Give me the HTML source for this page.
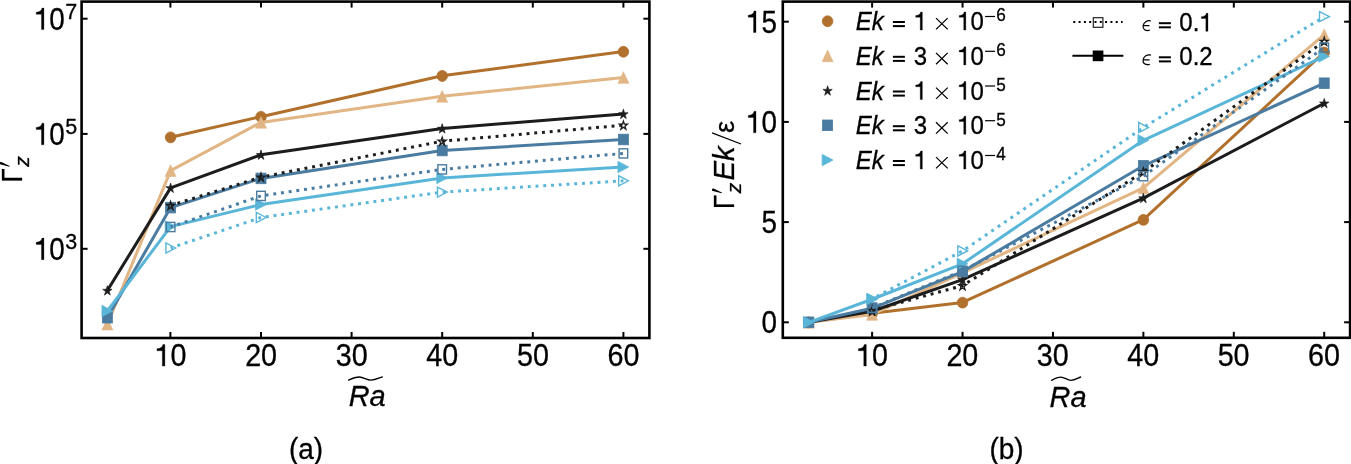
<!DOCTYPE html>
<html><head><meta charset="utf-8"><style>
html,body{margin:0;padding:0;background:#fff;}
svg{display:block;will-change:transform;}
text{font-family:"Liberation Sans", sans-serif;fill:#000;stroke:#000;stroke-width:0.3px;}
</style></head><body>
<svg width="1351" height="464" viewBox="0 0 1351 464">
<rect width="1351" height="464" fill="#fff"/>
<rect x="81.6" y="1.6" width="567.80" height="336.40" fill="none" stroke="#000" stroke-width="2.6"/>
<rect x="782.8" y="1.6" width="567.30" height="336.20" fill="none" stroke="#000" stroke-width="2.6"/>
<line x1="170.40" y1="332.00" x2="170.40" y2="338.00" stroke="#000" stroke-width="2.0"/>
<line x1="170.40" y1="1.60" x2="170.40" y2="7.60" stroke="#000" stroke-width="2.0"/>
<line x1="261.00" y1="332.00" x2="261.00" y2="338.00" stroke="#000" stroke-width="2.0"/>
<line x1="261.00" y1="1.60" x2="261.00" y2="7.60" stroke="#000" stroke-width="2.0"/>
<line x1="351.60" y1="332.00" x2="351.60" y2="338.00" stroke="#000" stroke-width="2.0"/>
<line x1="351.60" y1="1.60" x2="351.60" y2="7.60" stroke="#000" stroke-width="2.0"/>
<line x1="442.20" y1="332.00" x2="442.20" y2="338.00" stroke="#000" stroke-width="2.0"/>
<line x1="442.20" y1="1.60" x2="442.20" y2="7.60" stroke="#000" stroke-width="2.0"/>
<line x1="532.80" y1="332.00" x2="532.80" y2="338.00" stroke="#000" stroke-width="2.0"/>
<line x1="532.80" y1="1.60" x2="532.80" y2="7.60" stroke="#000" stroke-width="2.0"/>
<line x1="623.40" y1="332.00" x2="623.40" y2="338.00" stroke="#000" stroke-width="2.0"/>
<line x1="623.40" y1="1.60" x2="623.40" y2="7.60" stroke="#000" stroke-width="2.0"/>
<line x1="872.12" y1="331.80" x2="872.12" y2="337.80" stroke="#000" stroke-width="2.0"/>
<line x1="872.12" y1="1.60" x2="872.12" y2="7.60" stroke="#000" stroke-width="2.0"/>
<line x1="962.54" y1="331.80" x2="962.54" y2="337.80" stroke="#000" stroke-width="2.0"/>
<line x1="962.54" y1="1.60" x2="962.54" y2="7.60" stroke="#000" stroke-width="2.0"/>
<line x1="1052.96" y1="331.80" x2="1052.96" y2="337.80" stroke="#000" stroke-width="2.0"/>
<line x1="1052.96" y1="1.60" x2="1052.96" y2="7.60" stroke="#000" stroke-width="2.0"/>
<line x1="1143.38" y1="331.80" x2="1143.38" y2="337.80" stroke="#000" stroke-width="2.0"/>
<line x1="1143.38" y1="1.60" x2="1143.38" y2="7.60" stroke="#000" stroke-width="2.0"/>
<line x1="1233.80" y1="331.80" x2="1233.80" y2="337.80" stroke="#000" stroke-width="2.0"/>
<line x1="1233.80" y1="1.60" x2="1233.80" y2="7.60" stroke="#000" stroke-width="2.0"/>
<line x1="1324.22" y1="331.80" x2="1324.22" y2="337.80" stroke="#000" stroke-width="2.0"/>
<line x1="1324.22" y1="1.60" x2="1324.22" y2="7.60" stroke="#000" stroke-width="2.0"/>
<line x1="81.60" y1="18.70" x2="87.60" y2="18.70" stroke="#000" stroke-width="2.0"/>
<line x1="643.40" y1="18.70" x2="649.40" y2="18.70" stroke="#000" stroke-width="2.0"/>
<line x1="81.60" y1="133.90" x2="87.60" y2="133.90" stroke="#000" stroke-width="2.0"/>
<line x1="643.40" y1="133.90" x2="649.40" y2="133.90" stroke="#000" stroke-width="2.0"/>
<line x1="81.60" y1="248.80" x2="87.60" y2="248.80" stroke="#000" stroke-width="2.0"/>
<line x1="643.40" y1="248.80" x2="649.40" y2="248.80" stroke="#000" stroke-width="2.0"/>
<line x1="782.80" y1="322.30" x2="788.80" y2="322.30" stroke="#000" stroke-width="2.0"/>
<line x1="1344.10" y1="322.30" x2="1350.10" y2="322.30" stroke="#000" stroke-width="2.0"/>
<line x1="782.80" y1="222.10" x2="788.80" y2="222.10" stroke="#000" stroke-width="2.0"/>
<line x1="1344.10" y1="222.10" x2="1350.10" y2="222.10" stroke="#000" stroke-width="2.0"/>
<line x1="782.80" y1="121.90" x2="788.80" y2="121.90" stroke="#000" stroke-width="2.0"/>
<line x1="1344.10" y1="121.90" x2="1350.10" y2="121.90" stroke="#000" stroke-width="2.0"/>
<line x1="782.80" y1="21.70" x2="788.80" y2="21.70" stroke="#000" stroke-width="2.0"/>
<line x1="1344.10" y1="21.70" x2="1350.10" y2="21.70" stroke="#000" stroke-width="2.0"/>
<g transform="translate(154.54,366.10) scale(0.98,1.065)"><g transform="translate(0.000,0)"><path d="M10.548,0 L10.548,-20.276 L8.556,-20.276 C7.970,-17.932 6.300,-16.584 2.432,-16.291 L2.432,-14.357 L7.970,-14.357 L7.970,0 Z" fill="#000" stroke="#000" stroke-width="0.3"/></g><text x="16.291" y="0" font-size="29.3">0</text></g>
<g transform="translate(855.96,366.10) scale(0.98,1.065)"><g transform="translate(0.000,0)"><path d="M10.548,0 L10.548,-20.276 L8.556,-20.276 C7.970,-17.932 6.300,-16.584 2.432,-16.291 L2.432,-14.357 L7.970,-14.357 L7.970,0 Z" fill="#000" stroke="#000" stroke-width="0.3"/></g><text x="16.291" y="0" font-size="29.3">0</text></g>
<g transform="translate(245.14,366.10) scale(0.98,1.065)"><text x="0.000" y="0" font-size="29.3">2</text><text x="16.291" y="0" font-size="29.3">0</text></g>
<g transform="translate(946.38,366.10) scale(0.98,1.065)"><text x="0.000" y="0" font-size="29.3">2</text><text x="16.291" y="0" font-size="29.3">0</text></g>
<g transform="translate(335.74,366.10) scale(0.98,1.065)"><text x="0.000" y="0" font-size="29.3">3</text><text x="16.291" y="0" font-size="29.3">0</text></g>
<g transform="translate(1036.80,366.10) scale(0.98,1.065)"><text x="0.000" y="0" font-size="29.3">3</text><text x="16.291" y="0" font-size="29.3">0</text></g>
<g transform="translate(426.34,366.10) scale(0.98,1.065)"><text x="0.000" y="0" font-size="29.3">4</text><text x="16.291" y="0" font-size="29.3">0</text></g>
<g transform="translate(1127.22,366.10) scale(0.98,1.065)"><text x="0.000" y="0" font-size="29.3">4</text><text x="16.291" y="0" font-size="29.3">0</text></g>
<g transform="translate(516.94,366.10) scale(0.98,1.065)"><text x="0.000" y="0" font-size="29.3">5</text><text x="16.291" y="0" font-size="29.3">0</text></g>
<g transform="translate(1217.64,366.10) scale(0.98,1.065)"><text x="0.000" y="0" font-size="29.3">5</text><text x="16.291" y="0" font-size="29.3">0</text></g>
<g transform="translate(607.54,366.10) scale(0.98,1.065)"><text x="0.000" y="0" font-size="29.3">6</text><text x="16.291" y="0" font-size="29.3">0</text></g>
<g transform="translate(1308.06,366.10) scale(0.98,1.065)"><text x="0.000" y="0" font-size="29.3">6</text><text x="16.291" y="0" font-size="29.3">0</text></g>
<g transform="translate(33.90,29.60) scale(0.95,1.065)"><g transform="translate(0.000,0)"><path d="M10.548,0 L10.548,-20.276 L8.556,-20.276 C7.970,-17.932 6.300,-16.584 2.432,-16.291 L2.432,-14.357 L7.970,-14.357 L7.970,0 Z" fill="#000" stroke="#000" stroke-width="0.3"/></g><text x="16.291" y="0" font-size="29.3">0</text></g>
<text transform="translate(65.20,18.50) scale(1.0,1.03)" font-size="21.5" text-anchor="start">7</text>
<g transform="translate(33.90,144.80) scale(0.95,1.065)"><g transform="translate(0.000,0)"><path d="M10.548,0 L10.548,-20.276 L8.556,-20.276 C7.970,-17.932 6.300,-16.584 2.432,-16.291 L2.432,-14.357 L7.970,-14.357 L7.970,0 Z" fill="#000" stroke="#000" stroke-width="0.3"/></g><text x="16.291" y="0" font-size="29.3">0</text></g>
<text transform="translate(65.20,133.70) scale(1.0,1.03)" font-size="21.5" text-anchor="start">5</text>
<g transform="translate(33.90,259.70) scale(0.95,1.065)"><g transform="translate(0.000,0)"><path d="M10.548,0 L10.548,-20.276 L8.556,-20.276 C7.970,-17.932 6.300,-16.584 2.432,-16.291 L2.432,-14.357 L7.970,-14.357 L7.970,0 Z" fill="#000" stroke="#000" stroke-width="0.3"/></g><text x="16.291" y="0" font-size="29.3">0</text></g>
<text transform="translate(65.20,248.60) scale(1.0,1.03)" font-size="21.5" text-anchor="start">3</text>
<g transform="translate(761.42,333.20) scale(0.95,1.065)"><text x="0.000" y="0" font-size="29.3">0</text></g>
<g transform="translate(761.42,233.00) scale(0.95,1.065)"><text x="0.000" y="0" font-size="29.3">5</text></g>
<g transform="translate(745.95,132.80) scale(0.95,1.065)"><g transform="translate(0.000,0)"><path d="M10.548,0 L10.548,-20.276 L8.556,-20.276 C7.970,-17.932 6.300,-16.584 2.432,-16.291 L2.432,-14.357 L7.970,-14.357 L7.970,0 Z" fill="#000" stroke="#000" stroke-width="0.3"/></g><text x="16.291" y="0" font-size="29.3">0</text></g>
<g transform="translate(745.95,32.60) scale(0.95,1.065)"><g transform="translate(0.000,0)"><path d="M10.548,0 L10.548,-20.276 L8.556,-20.276 C7.970,-17.932 6.300,-16.584 2.432,-16.291 L2.432,-14.357 L7.970,-14.357 L7.970,0 Z" fill="#000" stroke="#000" stroke-width="0.3"/></g><text x="16.291" y="0" font-size="29.3">5</text></g>
<text transform="translate(348.70,406.40) scale(0.95,0.96)" font-size="30.5" text-anchor="start" font-style="italic">Ra</text>
<path d="M348.60,380.10 C352.64,378.20 356.01,377.00 359.38,377.00 C363.43,377.00 366.80,380.10 370.84,380.10 C375.56,380.10 378.93,378.00 382.30,376.90" fill="none" stroke="#000" stroke-width="1.35" stroke-linecap="round"/>
<text transform="translate(1049.60,407.20) scale(0.95,0.96)" font-size="30.5" text-anchor="start" font-style="italic">Ra</text>
<path d="M1051.60,380.30 C1055.08,378.40 1057.98,377.10 1060.88,377.10 C1064.36,377.10 1067.26,380.30 1070.74,380.30 C1074.80,380.30 1077.70,378.10 1080.60,377.00" fill="none" stroke="#000" stroke-width="1.35" stroke-linecap="round"/>
<text transform="translate(289.00,458.60) scale(0.955,1.0)" font-size="29.3" text-anchor="start">(a)</text>
<text transform="translate(989.50,458.60) scale(0.955,1.0)" font-size="29.3" text-anchor="start">(b)</text>
<g transform="translate(21.90,182.50) rotate(-90)">
<text transform="translate(0.00,0.00) scale(0.88,1.0)" font-size="29.3" text-anchor="start">&#915;</text>
<path d="M15.77,-12.42 L16.43,-12.18 L20.63,-21.1 Q19.9,-22.5 18.2,-22.1 Z" fill="#000"/>
<text x="15.70" y="7.00" font-size="21.0" text-anchor="start" font-style="italic">z</text>
</g>
<g transform="translate(734.10,209.00) rotate(-90)">
<text transform="translate(0.00,0.00) scale(0.88,1.0)" font-size="29.3" text-anchor="start">&#915;</text>
<path d="M15.77,-12.42 L16.43,-12.18 L20.63,-21.1 Q19.9,-22.5 18.2,-22.1 Z" fill="#000"/>
<text x="15.70" y="7.00" font-size="21.0" text-anchor="start" font-style="italic">z</text>
<text x="28.50" y="0.00" font-size="29.3" text-anchor="start" font-style="italic">Ek</text>
<line x1="65.0" y1="6.9" x2="76.2" y2="-22.0" stroke="#000" stroke-width="1.3"/>
<text x="76.00" y="0.00" font-size="27.5" text-anchor="start">&#949;</text>
</g>
<ellipse cx="827.60" cy="21.25" rx="5.3" ry="5.46" fill="#B1702B" stroke="#B1702B" stroke-width="0.8"/>
<text transform="translate(855.80,30.10) scale(0.98,1.07)" font-size="24.5" text-anchor="start" font-style="italic">Ek</text>
<rect x="892.90" y="21.00" width="12.0" height="2.0" fill="#000"/><rect x="892.90" y="25.10" width="12.0" height="2.0" fill="#000"/>
<g transform="translate(913.70,30.10) scale(0.98,1.07)"><g transform="translate(0.000,0)"><path d="M8.820,0 L8.820,-16.954 L7.154,-16.954 C6.664,-14.994 5.268,-13.867 2.034,-13.622 L2.034,-12.005 L6.664,-12.005 L6.664,0 Z" fill="#000" stroke="#000" stroke-width="0.3"/></g></g>
<path d="M936.00,18.10 L947.70,29.40 M947.70,18.10 L936.00,29.40" stroke="#000" stroke-width="1.3" fill="none"/>
<g transform="translate(957.20,30.10) scale(0.98,1.07)"><g transform="translate(0.000,0)"><path d="M8.820,0 L8.820,-16.954 L7.154,-16.954 C6.664,-14.994 5.268,-13.867 2.034,-13.622 L2.034,-12.005 L6.664,-12.005 L6.664,0 Z" fill="#000" stroke="#000" stroke-width="0.3"/></g><text x="13.622" y="0" font-size="24.5">0</text></g>
<rect x="985.1" y="15.90" width="10.0" height="1.2" fill="#000"/>
<g transform="translate(996.30,21.40) scale(0.98,1.07)"><text x="0.000" y="0" font-size="17.5">6</text></g>
<polygon points="827.60,50.07 822.10,61.73 833.10,61.73" fill="#E1B584" stroke="#E1B584" stroke-width="0.6" stroke-linejoin="miter"/>
<text transform="translate(855.80,64.90) scale(0.98,1.07)" font-size="24.5" text-anchor="start" font-style="italic">Ek</text>
<rect x="892.90" y="55.80" width="12.0" height="2.0" fill="#000"/><rect x="892.90" y="59.90" width="12.0" height="2.0" fill="#000"/>
<g transform="translate(913.70,64.90) scale(0.98,1.07)"><text x="0.000" y="0" font-size="24.5">3</text></g>
<path d="M936.00,52.90 L947.70,64.20 M947.70,52.90 L936.00,64.20" stroke="#000" stroke-width="1.3" fill="none"/>
<g transform="translate(957.20,64.90) scale(0.98,1.07)"><g transform="translate(0.000,0)"><path d="M8.820,0 L8.820,-16.954 L7.154,-16.954 C6.664,-14.994 5.268,-13.867 2.034,-13.622 L2.034,-12.005 L6.664,-12.005 L6.664,0 Z" fill="#000" stroke="#000" stroke-width="0.3"/></g><text x="13.622" y="0" font-size="24.5">0</text></g>
<rect x="985.1" y="50.70" width="10.0" height="1.2" fill="#000"/>
<g transform="translate(996.30,56.20) scale(0.98,1.07)"><text x="0.000" y="0" font-size="17.5">6</text></g>
<polygon points="827.60,85.81 828.70,89.39 832.26,89.39 829.38,91.61 830.48,95.20 827.60,92.98 824.72,95.20 825.82,91.61 822.94,89.39 826.50,89.39" fill="#1c1c1c" stroke="#1c1c1c" stroke-width="0.7" stroke-linejoin="miter"/>
<text transform="translate(855.80,99.60) scale(0.98,1.07)" font-size="24.5" text-anchor="start" font-style="italic">Ek</text>
<rect x="892.90" y="90.50" width="12.0" height="2.0" fill="#000"/><rect x="892.90" y="94.60" width="12.0" height="2.0" fill="#000"/>
<g transform="translate(913.70,99.60) scale(0.98,1.07)"><g transform="translate(0.000,0)"><path d="M8.820,0 L8.820,-16.954 L7.154,-16.954 C6.664,-14.994 5.268,-13.867 2.034,-13.622 L2.034,-12.005 L6.664,-12.005 L6.664,0 Z" fill="#000" stroke="#000" stroke-width="0.3"/></g></g>
<path d="M936.00,87.60 L947.70,98.90 M947.70,87.60 L936.00,98.90" stroke="#000" stroke-width="1.3" fill="none"/>
<g transform="translate(957.20,99.60) scale(0.98,1.07)"><g transform="translate(0.000,0)"><path d="M8.820,0 L8.820,-16.954 L7.154,-16.954 C6.664,-14.994 5.268,-13.867 2.034,-13.622 L2.034,-12.005 L6.664,-12.005 L6.664,0 Z" fill="#000" stroke="#000" stroke-width="0.3"/></g><text x="13.622" y="0" font-size="24.5">0</text></g>
<rect x="985.1" y="85.40" width="10.0" height="1.2" fill="#000"/>
<g transform="translate(996.30,90.90) scale(0.98,1.07)"><text x="0.000" y="0" font-size="17.5">5</text></g>
<rect x="822.60" y="120.00" width="10.0" height="10.60" fill="#4A7BA0" stroke="#4A7BA0" stroke-width="0.8"/>
<text transform="translate(855.80,134.30) scale(0.98,1.07)" font-size="24.5" text-anchor="start" font-style="italic">Ek</text>
<rect x="892.90" y="125.20" width="12.0" height="2.0" fill="#000"/><rect x="892.90" y="129.30" width="12.0" height="2.0" fill="#000"/>
<g transform="translate(913.70,134.30) scale(0.98,1.07)"><text x="0.000" y="0" font-size="24.5">3</text></g>
<path d="M936.00,122.30 L947.70,133.60 M947.70,122.30 L936.00,133.60" stroke="#000" stroke-width="1.3" fill="none"/>
<g transform="translate(957.20,134.30) scale(0.98,1.07)"><g transform="translate(0.000,0)"><path d="M8.820,0 L8.820,-16.954 L7.154,-16.954 C6.664,-14.994 5.268,-13.867 2.034,-13.622 L2.034,-12.005 L6.664,-12.005 L6.664,0 Z" fill="#000" stroke="#000" stroke-width="0.3"/></g><text x="13.622" y="0" font-size="24.5">0</text></g>
<rect x="985.1" y="120.10" width="10.0" height="1.2" fill="#000"/>
<g transform="translate(996.30,125.60) scale(0.98,1.07)"><text x="0.000" y="0" font-size="17.5">5</text></g>
<polygon points="833.10,160.10 822.10,154.27 822.10,165.93" fill="#5AB6D8" stroke="#5AB6D8" stroke-width="0.6"/>
<text transform="translate(855.80,169.10) scale(0.98,1.07)" font-size="24.5" text-anchor="start" font-style="italic">Ek</text>
<rect x="892.90" y="160.00" width="12.0" height="2.0" fill="#000"/><rect x="892.90" y="164.10" width="12.0" height="2.0" fill="#000"/>
<g transform="translate(913.70,169.10) scale(0.98,1.07)"><g transform="translate(0.000,0)"><path d="M8.820,0 L8.820,-16.954 L7.154,-16.954 C6.664,-14.994 5.268,-13.867 2.034,-13.622 L2.034,-12.005 L6.664,-12.005 L6.664,0 Z" fill="#000" stroke="#000" stroke-width="0.3"/></g></g>
<path d="M936.00,157.10 L947.70,168.40 M947.70,157.10 L936.00,168.40" stroke="#000" stroke-width="1.3" fill="none"/>
<g transform="translate(957.20,169.10) scale(0.98,1.07)"><g transform="translate(0.000,0)"><path d="M8.820,0 L8.820,-16.954 L7.154,-16.954 C6.664,-14.994 5.268,-13.867 2.034,-13.622 L2.034,-12.005 L6.664,-12.005 L6.664,0 Z" fill="#000" stroke="#000" stroke-width="0.3"/></g><text x="13.622" y="0" font-size="24.5">0</text></g>
<rect x="985.1" y="154.90" width="10.0" height="1.2" fill="#000"/>
<g transform="translate(996.30,160.40) scale(0.98,1.07)"><text x="0.000" y="0" font-size="17.5">4</text></g>
<line x1="1073.3" y1="21.9" x2="1122.6" y2="21.9" stroke="#000" stroke-width="2.0" stroke-dasharray="2.0 3.3"/>
<rect x="1093.3" y="17.7" width="9.6" height="9.6" fill="none" stroke="#222" stroke-width="1.2"/>
<line x1="1072.4" y1="55.8" x2="1123.4" y2="55.8" stroke="#000" stroke-width="2.1"/>
<rect x="1092.7" y="50.5" width="10.7" height="10.7" fill="#000"/>
<path d="M1151.00,21.00 C1147.20,19.90 1143.60,22.30 1143.10,25.90 C1142.60,29.30 1145.40,31.30 1149.80,30.20 M1143.60,25.70 L1149.60,25.70" fill="none" stroke="#000" stroke-width="1.25"/>
<rect x="1158.90" y="22.20" width="12.0" height="2.0" fill="#000"/><rect x="1158.90" y="26.30" width="12.0" height="2.0" fill="#000"/>
<g transform="translate(1179.30,31.30) scale(0.98,1.07)"><text x="0.000" y="0" font-size="24.5">0</text><text x="13.622" y="0" font-size="24.5">.</text><g transform="translate(20.433,0)"><path d="M8.820,0 L8.820,-16.954 L7.154,-16.954 C6.664,-14.994 5.268,-13.867 2.034,-13.622 L2.034,-12.005 L6.664,-12.005 L6.664,0 Z" fill="#000" stroke="#000" stroke-width="0.3"/></g></g>
<path d="M1151.00,55.10 C1147.20,54.00 1143.60,56.40 1143.10,60.00 C1142.60,63.40 1145.40,65.40 1149.80,64.30 M1143.60,59.80 L1149.60,59.80" fill="none" stroke="#000" stroke-width="1.25"/>
<rect x="1158.90" y="56.30" width="12.0" height="2.0" fill="#000"/><rect x="1158.90" y="60.40" width="12.0" height="2.0" fill="#000"/>
<g transform="translate(1179.30,65.40) scale(0.98,1.07)"><text x="0.000" y="0" font-size="24.5">0</text><text x="13.622" y="0" font-size="24.5">.</text><text x="20.433" y="0" font-size="24.5">2</text></g>
<polyline points="170.60,137.20 261.00,116.70 442.20,75.80 623.40,51.60" fill="none" stroke="#B1702B" stroke-width="3.0" stroke-linejoin="round" stroke-linecap="butt"/>
<ellipse cx="170.60" cy="137.35" rx="5.3" ry="5.46" fill="#B1702B" stroke="#B1702B" stroke-width="0.8"/>
<ellipse cx="261.00" cy="116.85" rx="5.3" ry="5.46" fill="#B1702B" stroke="#B1702B" stroke-width="0.8"/>
<ellipse cx="442.20" cy="75.95" rx="5.3" ry="5.46" fill="#B1702B" stroke="#B1702B" stroke-width="0.8"/>
<ellipse cx="623.40" cy="51.75" rx="5.3" ry="5.46" fill="#B1702B" stroke="#B1702B" stroke-width="0.8"/>
<polyline points="107.38,324.10 170.60,170.60 261.00,122.40 442.20,96.30 623.40,77.50" fill="none" stroke="#E1B584" stroke-width="3.0" stroke-linejoin="round" stroke-linecap="butt"/>
<polygon points="107.38,318.27 101.88,329.93 112.88,329.93" fill="#E1B584" stroke="#E1B584" stroke-width="0.6" stroke-linejoin="miter"/>
<polygon points="170.60,164.77 165.10,176.43 176.10,176.43" fill="#E1B584" stroke="#E1B584" stroke-width="0.6" stroke-linejoin="miter"/>
<polygon points="261.00,116.57 255.50,128.23 266.50,128.23" fill="#E1B584" stroke="#E1B584" stroke-width="0.6" stroke-linejoin="miter"/>
<polygon points="442.20,90.47 436.70,102.13 447.70,102.13" fill="#E1B584" stroke="#E1B584" stroke-width="0.6" stroke-linejoin="miter"/>
<polygon points="623.40,71.67 617.90,83.33 628.90,83.33" fill="#E1B584" stroke="#E1B584" stroke-width="0.6" stroke-linejoin="miter"/>
<polyline points="107.38,290.50 170.60,187.90 261.00,154.80 442.20,128.50 623.40,114.00" fill="none" stroke="#1c1c1c" stroke-width="3.0" stroke-linejoin="round" stroke-linecap="butt"/>
<polygon points="107.38,285.71 108.48,289.29 112.04,289.29 109.16,291.51 110.26,295.10 107.38,292.88 104.50,295.10 105.60,291.51 102.72,289.29 106.28,289.29" fill="#1c1c1c" stroke="#1c1c1c" stroke-width="0.7" stroke-linejoin="miter"/>
<polygon points="170.60,183.11 171.70,186.69 175.26,186.69 172.38,188.91 173.48,192.50 170.60,190.28 167.72,192.50 168.82,188.91 165.94,186.69 169.50,186.69" fill="#1c1c1c" stroke="#1c1c1c" stroke-width="0.7" stroke-linejoin="miter"/>
<polygon points="261.00,150.01 262.10,153.59 265.66,153.59 262.78,155.81 263.88,159.40 261.00,157.18 258.12,159.40 259.22,155.81 256.34,153.59 259.90,153.59" fill="#1c1c1c" stroke="#1c1c1c" stroke-width="0.7" stroke-linejoin="miter"/>
<polygon points="442.20,123.71 443.30,127.29 446.86,127.29 443.98,129.51 445.08,133.10 442.20,130.88 439.32,133.10 440.42,129.51 437.54,127.29 441.10,127.29" fill="#1c1c1c" stroke="#1c1c1c" stroke-width="0.7" stroke-linejoin="miter"/>
<polygon points="623.40,109.21 624.50,112.79 628.06,112.79 625.18,115.01 626.28,118.60 623.40,116.38 620.52,118.60 621.62,115.01 618.74,112.79 622.30,112.79" fill="#1c1c1c" stroke="#1c1c1c" stroke-width="0.7" stroke-linejoin="miter"/>
<polyline points="107.38,317.70 170.60,207.60 261.00,178.40 442.20,150.50 623.40,139.50" fill="none" stroke="#4A7BA0" stroke-width="3.0" stroke-linejoin="round" stroke-linecap="butt"/>
<rect x="102.38" y="312.40" width="10.0" height="10.60" fill="#4A7BA0" stroke="#4A7BA0" stroke-width="0.8"/>
<rect x="165.60" y="202.30" width="10.0" height="10.60" fill="#4A7BA0" stroke="#4A7BA0" stroke-width="0.8"/>
<rect x="256.00" y="173.10" width="10.0" height="10.60" fill="#4A7BA0" stroke="#4A7BA0" stroke-width="0.8"/>
<rect x="437.20" y="145.20" width="10.0" height="10.60" fill="#4A7BA0" stroke="#4A7BA0" stroke-width="0.8"/>
<rect x="618.40" y="134.20" width="10.0" height="10.60" fill="#4A7BA0" stroke="#4A7BA0" stroke-width="0.8"/>
<polyline points="107.38,311.00 170.60,226.60 261.00,204.50 442.20,177.90 623.40,167.00" fill="none" stroke="#5AB6D8" stroke-width="3.0" stroke-linejoin="round" stroke-linecap="butt"/>
<polygon points="112.88,311.00 101.88,305.17 101.88,316.83" fill="#5AB6D8" stroke="#5AB6D8" stroke-width="0.6"/>
<polygon points="176.10,226.60 165.10,220.77 165.10,232.43" fill="#5AB6D8" stroke="#5AB6D8" stroke-width="0.6"/>
<polygon points="266.50,204.50 255.50,198.67 255.50,210.33" fill="#5AB6D8" stroke="#5AB6D8" stroke-width="0.6"/>
<polygon points="447.70,177.90 436.70,172.07 436.70,183.73" fill="#5AB6D8" stroke="#5AB6D8" stroke-width="0.6"/>
<polygon points="628.90,167.00 617.90,161.17 617.90,172.83" fill="#5AB6D8" stroke="#5AB6D8" stroke-width="0.6"/>
<polyline points="170.60,205.50 261.00,177.20 442.20,141.20 623.40,125.20" fill="none" stroke="#1c1c1c" stroke-width="3.0" stroke-dasharray="2.93 4.83" stroke-dashoffset="0.6" stroke-linecap="butt" stroke-linejoin="round"/>
<polygon points="170.60,201.45 171.54,204.52 174.59,204.52 172.13,206.43 173.07,209.50 170.60,207.60 168.13,209.50 169.07,206.43 166.61,204.52 169.66,204.52" fill="none" stroke="#1c1c1c" stroke-width="1.3" stroke-linejoin="miter"/>
<polygon points="261.00,173.15 261.94,176.22 264.99,176.22 262.53,178.13 263.47,181.20 261.00,179.30 258.53,181.20 259.47,178.13 257.01,176.22 260.06,176.22" fill="none" stroke="#1c1c1c" stroke-width="1.3" stroke-linejoin="miter"/>
<polygon points="442.20,137.15 443.14,140.22 446.19,140.22 443.73,142.13 444.67,145.20 442.20,143.30 439.73,145.20 440.67,142.13 438.21,140.22 441.26,140.22" fill="none" stroke="#1c1c1c" stroke-width="1.3" stroke-linejoin="miter"/>
<polygon points="623.40,121.15 624.34,124.22 627.39,124.22 624.93,126.13 625.87,129.20 623.40,127.30 620.93,129.20 621.87,126.13 619.41,124.22 622.46,124.22" fill="none" stroke="#1c1c1c" stroke-width="1.3" stroke-linejoin="miter"/>
<polyline points="170.60,227.00 261.00,195.90 442.20,169.40 623.40,153.40" fill="none" stroke="#4A7BA0" stroke-width="3.0" stroke-dasharray="2.93 4.83" stroke-dashoffset="0.6" stroke-linecap="butt" stroke-linejoin="round"/>
<rect x="166.30" y="222.40" width="8.6" height="9.20" fill="none" stroke="#4A7BA0" stroke-width="1.4"/>
<rect x="256.70" y="191.30" width="8.6" height="9.20" fill="none" stroke="#4A7BA0" stroke-width="1.4"/>
<rect x="437.90" y="164.80" width="8.6" height="9.20" fill="none" stroke="#4A7BA0" stroke-width="1.4"/>
<rect x="619.10" y="148.80" width="8.6" height="9.20" fill="none" stroke="#4A7BA0" stroke-width="1.4"/>
<polyline points="170.60,248.00 261.00,217.50 442.20,192.10 623.40,180.80" fill="none" stroke="#5AB6D8" stroke-width="3.0" stroke-dasharray="2.93 4.83" stroke-dashoffset="0.6" stroke-linecap="butt" stroke-linejoin="round"/>
<polygon points="175.70,248.00 165.90,242.97 165.90,253.03" fill="none" stroke="#5AB6D8" stroke-width="1.4" stroke-linejoin="miter"/>
<polygon points="266.10,217.50 256.30,212.47 256.30,222.53" fill="none" stroke="#5AB6D8" stroke-width="1.4" stroke-linejoin="miter"/>
<polygon points="447.30,192.10 437.50,187.07 437.50,197.13" fill="none" stroke="#5AB6D8" stroke-width="1.4" stroke-linejoin="miter"/>
<polygon points="628.50,180.80 618.70,175.77 618.70,185.83" fill="none" stroke="#5AB6D8" stroke-width="1.4" stroke-linejoin="miter"/>
<polyline points="808.83,322.30 872.12,313.28 962.54,302.46 1143.38,219.70 1324.22,52.36" fill="none" stroke="#B1702B" stroke-width="3.0" stroke-linejoin="round" stroke-linecap="butt"/>
<ellipse cx="808.83" cy="322.45" rx="5.3" ry="5.46" fill="#B1702B" stroke="#B1702B" stroke-width="0.8"/>
<ellipse cx="872.12" cy="313.43" rx="5.3" ry="5.46" fill="#B1702B" stroke="#B1702B" stroke-width="0.8"/>
<ellipse cx="962.54" cy="302.61" rx="5.3" ry="5.46" fill="#B1702B" stroke="#B1702B" stroke-width="0.8"/>
<ellipse cx="1143.38" cy="219.85" rx="5.3" ry="5.46" fill="#B1702B" stroke="#B1702B" stroke-width="0.8"/>
<ellipse cx="1324.22" cy="52.51" rx="5.3" ry="5.46" fill="#B1702B" stroke="#B1702B" stroke-width="0.8"/>
<polyline points="808.83,322.30 872.12,314.48 962.54,272.80 1143.38,187.83 1324.22,34.73" fill="none" stroke="#E1B584" stroke-width="3.0" stroke-linejoin="round" stroke-linecap="butt"/>
<polygon points="808.83,316.47 803.33,328.13 814.33,328.13" fill="#E1B584" stroke="#E1B584" stroke-width="0.6" stroke-linejoin="miter"/>
<polygon points="872.12,308.65 866.62,320.31 877.62,320.31" fill="#E1B584" stroke="#E1B584" stroke-width="0.6" stroke-linejoin="miter"/>
<polygon points="962.54,266.97 957.04,278.63 968.04,278.63" fill="#E1B584" stroke="#E1B584" stroke-width="0.6" stroke-linejoin="miter"/>
<polygon points="1143.38,182.00 1137.88,193.66 1148.88,193.66" fill="#E1B584" stroke="#E1B584" stroke-width="0.6" stroke-linejoin="miter"/>
<polygon points="1324.22,28.90 1318.72,40.56 1329.72,40.56" fill="#E1B584" stroke="#E1B584" stroke-width="0.6" stroke-linejoin="miter"/>
<polyline points="808.83,322.30 872.12,311.28 962.54,279.61 1143.38,198.05 1324.22,103.26" fill="none" stroke="#1c1c1c" stroke-width="3.0" stroke-linejoin="round" stroke-linecap="butt"/>
<polygon points="808.83,317.51 809.93,321.09 813.49,321.09 810.61,323.31 811.71,326.90 808.83,324.68 805.95,326.90 807.05,323.31 804.17,321.09 807.73,321.09" fill="#1c1c1c" stroke="#1c1c1c" stroke-width="0.7" stroke-linejoin="miter"/>
<polygon points="872.12,306.48 873.22,310.07 876.78,310.07 873.90,312.29 875.00,315.88 872.12,313.66 869.24,315.88 870.34,312.29 867.46,310.07 871.02,310.07" fill="#1c1c1c" stroke="#1c1c1c" stroke-width="0.7" stroke-linejoin="miter"/>
<polygon points="962.54,274.82 963.64,278.41 967.20,278.41 964.32,280.63 965.42,284.22 962.54,282.00 959.66,284.22 960.76,280.63 957.88,278.41 961.44,278.41" fill="#1c1c1c" stroke="#1c1c1c" stroke-width="0.7" stroke-linejoin="miter"/>
<polygon points="1143.38,193.26 1144.48,196.85 1148.04,196.85 1145.16,199.07 1146.26,202.65 1143.38,200.44 1140.50,202.65 1141.60,199.07 1138.72,196.85 1142.28,196.85" fill="#1c1c1c" stroke="#1c1c1c" stroke-width="0.7" stroke-linejoin="miter"/>
<polygon points="1324.22,98.47 1325.32,102.06 1328.88,102.06 1326.00,104.28 1327.10,107.86 1324.22,105.65 1321.34,107.86 1322.44,104.28 1319.56,102.06 1323.12,102.06" fill="#1c1c1c" stroke="#1c1c1c" stroke-width="0.7" stroke-linejoin="miter"/>
<polyline points="808.83,322.30 872.12,308.27 962.54,271.60 1143.38,165.79 1324.22,83.22" fill="none" stroke="#4A7BA0" stroke-width="3.0" stroke-linejoin="round" stroke-linecap="butt"/>
<rect x="803.83" y="317.00" width="10.0" height="10.60" fill="#4A7BA0" stroke="#4A7BA0" stroke-width="0.8"/>
<rect x="867.12" y="302.97" width="10.0" height="10.60" fill="#4A7BA0" stroke="#4A7BA0" stroke-width="0.8"/>
<rect x="957.54" y="266.30" width="10.0" height="10.60" fill="#4A7BA0" stroke="#4A7BA0" stroke-width="0.8"/>
<rect x="1138.38" y="160.49" width="10.0" height="10.60" fill="#4A7BA0" stroke="#4A7BA0" stroke-width="0.8"/>
<rect x="1319.22" y="77.92" width="10.0" height="10.60" fill="#4A7BA0" stroke="#4A7BA0" stroke-width="0.8"/>
<polyline points="808.83,322.30 872.12,299.25 962.54,263.78 1143.38,140.34 1324.22,56.37" fill="none" stroke="#5AB6D8" stroke-width="3.0" stroke-linejoin="round" stroke-linecap="butt"/>
<polygon points="814.33,322.30 803.33,316.47 803.33,328.13" fill="#5AB6D8" stroke="#5AB6D8" stroke-width="0.6"/>
<polygon points="877.62,299.25 866.62,293.42 866.62,305.08" fill="#5AB6D8" stroke="#5AB6D8" stroke-width="0.6"/>
<polygon points="968.04,263.78 957.04,257.95 957.04,269.61" fill="#5AB6D8" stroke="#5AB6D8" stroke-width="0.6"/>
<polygon points="1148.88,140.34 1137.88,134.51 1137.88,146.17" fill="#5AB6D8" stroke="#5AB6D8" stroke-width="0.6"/>
<polygon points="1329.72,56.37 1318.72,50.54 1318.72,62.20" fill="#5AB6D8" stroke="#5AB6D8" stroke-width="0.6"/>
<polyline points="872.12,310.28 962.54,285.63 1143.38,172.00 1324.22,41.34" fill="none" stroke="#1c1c1c" stroke-width="3.0" stroke-dasharray="2.93 4.83" stroke-dashoffset="1.45" stroke-linecap="butt" stroke-linejoin="round"/>
<polygon points="872.12,306.22 873.06,309.30 876.11,309.30 873.65,311.20 874.59,314.28 872.12,312.38 869.65,314.28 870.59,311.20 868.13,309.30 871.18,309.30" fill="none" stroke="#1c1c1c" stroke-width="1.3" stroke-linejoin="miter"/>
<polygon points="962.54,281.57 963.48,284.65 966.53,284.65 964.07,286.55 965.01,289.63 962.54,287.73 960.07,289.63 961.01,286.55 958.55,284.65 961.60,284.65" fill="none" stroke="#1c1c1c" stroke-width="1.3" stroke-linejoin="miter"/>
<polygon points="1143.38,167.95 1144.32,171.02 1147.37,171.02 1144.91,172.93 1145.85,176.00 1143.38,174.10 1140.91,176.00 1141.85,172.93 1139.39,171.02 1142.44,171.02" fill="none" stroke="#1c1c1c" stroke-width="1.3" stroke-linejoin="miter"/>
<polygon points="1324.22,37.29 1325.16,40.36 1328.21,40.36 1325.75,42.26 1326.69,45.34 1324.22,43.44 1321.75,45.34 1322.69,42.26 1320.23,40.36 1323.28,40.36" fill="none" stroke="#1c1c1c" stroke-width="1.3" stroke-linejoin="miter"/>
<polyline points="872.12,307.87 962.54,270.80 1143.38,176.21 1324.22,47.55" fill="none" stroke="#4A7BA0" stroke-width="3.0" stroke-dasharray="2.93 4.83" stroke-dashoffset="0.62" stroke-linecap="butt" stroke-linejoin="round"/>
<rect x="867.82" y="303.27" width="8.6" height="9.20" fill="none" stroke="#4A7BA0" stroke-width="1.4"/>
<rect x="958.24" y="266.20" width="8.6" height="9.20" fill="none" stroke="#4A7BA0" stroke-width="1.4"/>
<rect x="1139.08" y="171.61" width="8.6" height="9.20" fill="none" stroke="#4A7BA0" stroke-width="1.4"/>
<rect x="1319.92" y="42.95" width="8.6" height="9.20" fill="none" stroke="#4A7BA0" stroke-width="1.4"/>
<polyline points="872.12,298.85 962.54,250.96 1143.38,127.51 1324.22,16.69" fill="none" stroke="#5AB6D8" stroke-width="3.0" stroke-dasharray="2.93 4.83" stroke-dashoffset="2.48" stroke-linecap="butt" stroke-linejoin="round"/>
<polygon points="877.22,298.85 867.42,293.82 867.42,303.88" fill="none" stroke="#5AB6D8" stroke-width="1.4" stroke-linejoin="miter"/>
<polygon points="967.64,250.96 957.84,245.93 957.84,255.99" fill="none" stroke="#5AB6D8" stroke-width="1.4" stroke-linejoin="miter"/>
<polygon points="1148.48,127.51 1138.68,122.48 1138.68,132.54" fill="none" stroke="#5AB6D8" stroke-width="1.4" stroke-linejoin="miter"/>
<polygon points="1329.32,16.69 1319.52,11.66 1319.52,21.72" fill="none" stroke="#5AB6D8" stroke-width="1.4" stroke-linejoin="miter"/>
</svg>
</body></html>
